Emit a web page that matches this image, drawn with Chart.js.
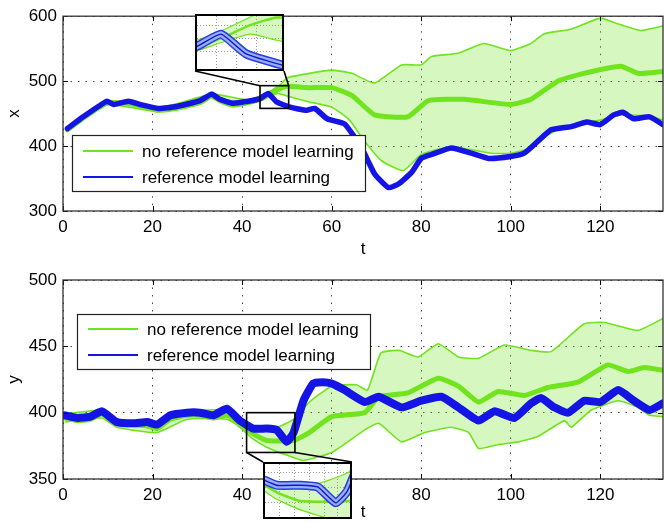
<!DOCTYPE html>
<html>
<head>
<meta charset="utf-8">
<script src="https://cdn.jsdelivr.net/npm/chart.js@4.4.1/dist/chart.umd.min.js"></script>
<style>
body{margin:0;background:#fff;width:664px;height:523px;position:relative;overflow:hidden}
canvas{position:absolute;left:0;top:0}
.inset{position:absolute;border:2px solid #000;background:#fff;box-sizing:border-box;overflow:hidden}
</style>
</head>
<body>
<canvas id="topChart" width="664" height="264"></canvas>
<canvas id="botChart" width="664" height="267" style="top:260px"></canvas>
<div class="inset" id="topInsetBox" style="left:195px;top:14px;width:89px;height:57px"><canvas id="topInset" width="85" height="53"></canvas></div>
<div class="inset" id="botInsetBox" style="left:263px;top:462px;width:89px;height:57px"><canvas id="botInset" width="85" height="53"></canvas></div>
<script>
// series names (legend)
const seriesNames = ['no reference model learning', 'reference model learning'];

// tick labels
const tTicks = [0, 20, 40, 60, 80, 100, 120];
const xTicks = [300, 400, 500, 600];
const yTicks = [350, 400, 450, 500];

// top panel (x) -- [t, value]
const xBlue = [[1,427],[4.5,445],[9.8,469],[11.3,464],[14.6,469],[17.2,464],[21.3,458],[25.4,461],[30.6,470],[33.2,480],[35,472],[38,466],[41.3,469],[44,473],[45.8,481],[47.7,468],[50.7,460],[54.4,455],[56.2,458],[59,442],[62.9,434],[66.7,397],[69.6,357],[72.7,336],[75,342],[77.8,359],[80,381],[82.3,387],[86.7,397],[91.2,389],[95,381],[100,384],[103,389],[106,407],[109,425],[113.5,430],[117,437],[120,433],[123,448],[125,452],[127.5,442],[131,445],[134,433]];
const xMean = [[1,425],[4.5,443],[9.8,466],[14.6,466],[17.2,462],[21.3,455],[25.4,458],[30.6,467],[33.2,477],[35,470],[38,463],[41.3,467],[44,472],[46,479],[48,487],[50,492],[55,490],[60,490],[64.5,478],[69.6,448],[77,445],[81.6,470],[89.6,472],[100,464],[104.5,472],[110.5,500],[116.3,512],[124.6,523],[128.4,512],[134,515]];
const xUpper = [[1,427],[9.8,469],[21.3,458],[33.2,480],[41.3,471],[45,480],[48.6,495],[50,505],[55,512],[60,517],[64.5,512],[69.6,497],[75.6,525],[80,525],[82.3,538],[88.3,543],[94,558],[100,547],[104.5,558],[107.5,573],[113.5,580],[120,597],[124,588],[129,578],[134,585]];
const xLower = [[1,423],[9.8,464],[21.3,453],[33.2,475],[41.3,465],[44,470],[46,476],[48,481],[50,477],[55,468],[60,460],[64,440],[67.4,407],[71.2,377],[76,362],[80,387],[86.7,399],[95.6,389],[100,389],[104.5,397],[108.3,417],[112,430],[120,440],[124.6,448],[131,446],[134,440]];

// bottom panel (y) -- [t, value]
const yBlue = [[0.5,398],[3.2,396],[6.1,397],[8.7,401],[12,393],[15.7,392],[18.8,393],[21,391],[24,398],[27.7,400],[30.6,400],[33.6,398],[36.6,403],[39.5,394],[42.5,388],[45.5,388],[47.7,387],[50,378],[51.5,385],[53.7,409],[55.9,422],[58,423],[60,422],[62.9,417],[67.4,408],[70.5,412],[75.6,404],[80,409],[84.5,412],[88.3,404],[92.8,394],[96.4,401],[100.8,396],[104.5,407],[106.8,411],[109.7,404],[112.8,400],[116.4,409],[120,408],[124,417],[127.5,409],[131,402],[134,407]];
const yMean = [[0.5,396],[3.2,394],[6.1,395],[8.7,399],[12,392],[15.7,391],[18.8,390],[21,388],[24,395],[27.7,398],[30.6,398],[33.6,396],[36.6,398],[39.5,392],[42.5,384],[45.5,379],[51.5,379],[55,385],[60,397],[67.4,400],[70.5,412],[77,415],[83.8,426],[88.3,420],[92.8,408],[97.2,416],[103,413],[108.3,419],[115,423],[121.7,436],[126.2,431],[129.8,434],[134,432]];
const yUpper = [[0.5,399],[8.7,402],[12,395],[21,391],[27.7,401],[36.6,402],[39.5,396],[42.5,390],[47.7,389],[51.5,395],[55,408],[60,420],[65.5,421],[68,417],[71,445],[75,447],[79.3,442],[83.8,452],[88.3,442],[92.8,441],[98.6,451],[104.5,447],[109,446],[116.4,467],[121,468],[128.4,462],[134,471]];
const yLower = [[0.5,393],[8.7,396],[12,389],[21,385],[27.7,395],[36.6,395],[39.5,389],[42.5,380],[45.5,374],[50,368],[53.7,364],[60,370],[67.4,387],[70.5,392],[75.6,378],[80.8,385],[86.7,389],[90.6,385],[92.8,373],[97.2,376],[101.7,378],[106,382],[112,394],[113.5,389],[118,402],[124,409],[128.4,404],[131,398],[134,397]];

// zoomed windows [t0, t1, v0, v1] and inset grid
const xZoom = [44, 50.4, 458, 493];
const yZoom = [41, 51.8, 370, 400];
const xZoomGridT = [45.5, 47, 48.5];
const xZoomGridV = [469.5, 478, 486.5];
const yZoomGridT = [42.9, 44.7, 46.6, 48.5, 50.2];
const yZoomGridV = [378, 386.5, 395];

const GREEN = 'rgb(112,228,28)';
const FILL = 'rgba(112,228,28,0.28)';
const BLUE = 'rgb(20,20,228)';

Chart.defaults.font.family = '"Liberation Sans", Arial, sans-serif';
Chart.defaults.font.size = 17;
Chart.defaults.color = '#000';

const pts = arr => arr.map(p => ({x: p[0], y: p[1]}));
const setTicks = vals => axis => { axis.ticks = vals.map(v => ({value: v})); };

const boxPlugin = {
  id: 'axesBox',
  afterDatasetsDraw(chart, args, opts) {
    const {ctx, chartArea: a, scales} = chart;
    ctx.save();
    // inward ticks
    ctx.strokeStyle = '#000';
    ctx.lineWidth = 1;
    ctx.beginPath();
    scales.x.ticks.forEach(t => {
      const px = Math.round(scales.x.getPixelForValue(t.value)) + 0.5;
      ctx.moveTo(px, a.bottom); ctx.lineTo(px, a.bottom - 5);
      ctx.moveTo(px, a.top); ctx.lineTo(px, a.top + 5);
    });
    scales.y.ticks.forEach(t => {
      const py = Math.round(scales.y.getPixelForValue(t.value)) + 0.5;
      ctx.moveTo(a.left, py); ctx.lineTo(a.left + 5, py);
      ctx.moveTo(a.right, py); ctx.lineTo(a.right - 5, py);
    });
    ctx.stroke();
    ctx.lineWidth = 1.3;
    ctx.strokeStyle = '#333';
    ctx.strokeRect(a.left, a.top, a.right - a.left, a.bottom - a.top);

    // zoom window and connectors
    const z = opts.zoom;
    const el = document.getElementById(opts.inset);
    const off = chart.canvas.offsetTop;
    const x0 = scales.x.getPixelForValue(z[0]), x1 = scales.x.getPixelForValue(z[1]);
    const y0 = scales.y.getPixelForValue(z[2]), y1 = scales.y.getPixelForValue(z[3]);
    ctx.strokeStyle = '#000';
    ctx.lineWidth = 1.6;
    ctx.strokeRect(x0, y1, x1 - x0, y0 - y1);
    const il = el.offsetLeft, ir = el.offsetLeft + el.offsetWidth;
    ctx.beginPath();
    if (opts.below) {
      const it = el.offsetTop - off;
      ctx.moveTo(x0, y0); ctx.lineTo(il, it);
      ctx.moveTo(x1, y0); ctx.lineTo(ir, it);
    } else {
      const ib = el.offsetTop + el.offsetHeight - off;
      ctx.moveTo(x0, y1); ctx.lineTo(il, ib);
      ctx.moveTo(x1, y1); ctx.lineTo(ir, ib);
    }
    ctx.stroke();

    // legend
    const L = opts.legend;
    ctx.fillStyle = '#fff';
    ctx.fillRect(L.x, L.y, L.w, L.h);
    ctx.lineWidth = 1.2;
    ctx.strokeStyle = '#222';
    ctx.strokeRect(L.x + 0.5, L.y + 0.5, L.w, L.h);
    ctx.font = '17px "Liberation Sans", Arial, sans-serif';
    ctx.textBaseline = 'middle';
    ctx.fillStyle = '#000';
    [[seriesNames[0], GREEN], [seriesNames[1], BLUE]].forEach((it, i) => {
      const ly = L.y + L.first + i * L.gap;
      ctx.strokeStyle = it[1];
      ctx.lineWidth = 2.2;
      ctx.beginPath();
      ctx.moveTo(L.x + 11, ly); ctx.lineTo(L.x + 61, ly);
      ctx.stroke();
      ctx.fillText(it[0], L.x + 70, ly + 1);
    });
    ctx.restore();
  }
};

function mainChart(id, blue, mean, upper, lower, yVals, yTitle, blueWidth, opts) {
  return new Chart(document.getElementById(id), {
    type: 'line',
    data: {
      datasets: [
        {label: seriesNames[1], data: pts(blue), borderColor: BLUE, borderWidth: blueWidth, order: 0},
        {label: seriesNames[0], data: pts(mean), borderColor: GREEN, borderWidth: 5, order: 1},
        {label: 'upper', data: pts(upper), borderColor: GREEN, borderWidth: 1.6, fill: '+1', backgroundColor: FILL, order: 2},
        {label: 'lower', data: pts(lower), borderColor: GREEN, borderWidth: 1.6, order: 3}
      ]
    },
    options: {
      responsive: false,
      animation: false,
      devicePixelRatio: 1,
      elements: {point: {radius: 0}, line: {tension: 0.15, borderCapStyle: 'round', borderJoinStyle: 'round'}},
      layout: {padding: {top: opts.padTop, right: 1, left: 0, bottom: 0}},
      scales: {
        x: {
          type: 'linear', min: 0, max: 134,
          afterBuildTicks: setTicks(tTicks),
          afterFit: s => { s.height = opts.xHeight; },
          grid: {color: '#444', lineWidth: 1, drawTicks: false},
          border: {display: false, dash: [1.5, 6]},
          ticks: {padding: 6, maxRotation: 0},
          title: {display: true, text: 't', padding: {top: 0, bottom: 4}}
        },
        y: {
          type: 'linear', min: yVals[0], max: yVals[yVals.length - 1],
          afterBuildTicks: setTicks(yVals),
          afterFit: s => { s.width = 63; },
          grid: {color: '#444', lineWidth: 1, drawTicks: false},
          border: {display: false, dash: [1.5, 6]},
          ticks: {padding: 6},
          title: {display: true, text: yTitle, padding: {top: 4, bottom: 0}}
        }
      },
      plugins: {
        legend: {display: false},
        tooltip: {enabled: false},
        axesBox: opts.box
      }
    },
    plugins: [boxPlugin]
  });
}

function insetChart(id, blue, mean, upper, lower, z, gt, gv) {
  const blueLayer = (w, c, o) => ({data: pts(blue), borderColor: c, borderWidth: w, order: o});
  return new Chart(document.getElementById(id), {
    type: 'line',
    data: {
      datasets: [
        blueLayer(1.4, 'rgb(20,20,200)', 0),
        blueLayer(6, 'rgb(150,175,250)', 1),
        blueLayer(9, 'rgb(40,60,220)', 2),
        {data: pts(mean), borderColor: GREEN, borderWidth: 2.5, order: 3},
        {data: pts(upper), borderColor: GREEN, borderWidth: 1.2, fill: '+1', backgroundColor: FILL, order: 4},
        {data: pts(lower), borderColor: GREEN, borderWidth: 1.2, order: 5}
      ]
    },
    options: {
      responsive: false,
      animation: false,
      devicePixelRatio: 1,
      elements: {point: {radius: 0}, line: {tension: 0.15}},
      layout: {padding: 0},
      scales: {
        x: {type: 'linear', min: z[0], max: z[1], afterBuildTicks: setTicks(gt),
            ticks: {display: false}, grid: {color: '#999', drawTicks: false}, border: {display: false, dash: [1, 2]}},
        y: {type: 'linear', min: z[2], max: z[3], afterBuildTicks: setTicks(gv),
            ticks: {display: false}, grid: {color: '#999', drawTicks: false}, border: {display: false, dash: [1, 2]}}
      },
      plugins: {legend: {display: false}, tooltip: {enabled: false}}
    }
  });
}

mainChart('topChart', xBlue, xMean, xUpper, xLower, xTicks, 'x', 5.5, {
  padTop: 12, xHeight: 53,
  box: {zoom: xZoom, inset: 'topInsetBox', below: false,
        legend: {x: 72, y: 135, w: 293, h: 56, first: 16, gap: 26}}
});
mainChart('botChart', yBlue, yMean, yUpper, yLower, yTicks, 'y', 8, {
  padTop: 20, xHeight: 48,
  box: {zoom: yZoom, inset: 'botInsetBox', below: true,
        legend: {x: 77, y: 54, w: 293, h: 55, first: 15, gap: 26}}
});
insetChart('topInset', xBlue, xMean, xUpper, xLower, xZoom, xZoomGridT, xZoomGridV);
insetChart('botInset', yBlue, yMean, yUpper, yLower, yZoom, yZoomGridT, yZoomGridV);
</script>
</body>
</html>
